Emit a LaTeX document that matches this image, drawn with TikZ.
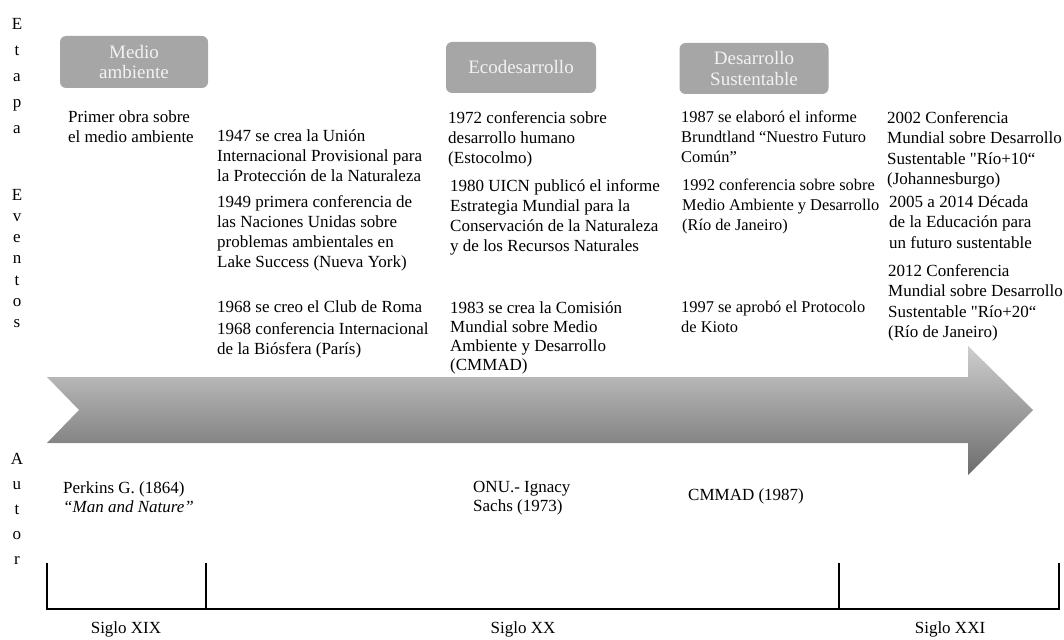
\documentclass[tikz,border=0pt]{standalone}
\usepackage{fontspec}
\setmainfont{Liberation Serif}
\definecolor{stagegray}{HTML}{A6A6A6}
\definecolor{stagetext}{HTML}{F2F2F2}
\definecolor{arrowtop}{HTML}{CECECE}
\definecolor{arrowbottom}{HTML}{6C6C6C}
\begin{document}
\begin{tikzpicture}[x=1pt,y=-1pt,
  txt/.style={anchor=north west, inner sep=0pt, align=left,
    font=\fontsize{17}{20}\selectfont},
  txtsm/.style={txt, font=\fontsize{16.4}{20}\selectfont},
  stage/.style={fill=stagegray, rounded corners=6pt, text=stagetext,
    align=center, inner sep=0pt, font=\fontsize{19}{20.5}\selectfont},
  vlab/.style={anchor=north, inner sep=0pt, align=center},
  era/.style={inner sep=0pt, font=\fontsize{17}{19.5}\selectfont},
  bracket/.style={line width=1.3pt, black}]
\useasboundingbox (0,0) rectangle (1064,639);

% vertical row headings
\node[vlab, font=\fontsize{17}{26}\selectfont] (etapa) at (17,18) {E\\t\\a\\p\\a};
\node[vlab, font=\fontsize{17}{21.2}\selectfont] (eventos) at (17,189) {E\\v\\e\\n\\t\\o\\s};
\node[vlab, font=\fontsize{17}{25}\selectfont] (autor) at (17,453) {A\\u\\t\\o\\r};

% stage boxes
\node[stage, minimum width=148pt, minimum height=52pt] (medio) at (134,62) {Medio\\ambiente};
\node[stage, minimum width=150pt, minimum height=51pt] (eco) at (521,67.5) {Ecodesarrollo};
\node[stage, minimum width=149pt, minimum height=51pt] (sust) at (754,68.5) {Desarrollo\\Sustentable};

% events, column 1
\node[txt] (e1) at (68,111) {Primer obra sobre\\el medio ambiente};

% events, column 2
\node[txt] (e1947) at (217,129) {1947 se crea la Unión\\Internacional Provisional para\\la Protección de la Naturaleza};
\node[txt] (e1949) at (217,195) {1949 primera conferencia de\\las Naciones Unidas sobre\\problemas ambientales en\\Lake Success (Nueva York)};
\node[txt] (e1968a) at (217,301) {1968 se creo el Club de Roma};
\node[txt] (e1968b) at (217,322) {1968 conferencia Internacional\\de la Biósfera (París)};

% events, column 3
\node[txt] (e1972) at (448,111) {1972 conferencia sobre\\desarrollo humano\\(Estocolmo)};
\node[txt] (e1980) at (450,179) {1980 UICN publicó el informe\\Estrategia Mundial para la\\Conservación de la Naturaleza\\y de los Recursos Naturales};
\node[txt, font=\fontsize{17}{19}\selectfont] (e1983) at (450,301) {1983 se crea la Comisión\\Mundial sobre Medio\\Ambiente y Desarrollo\\(CMMAD)};

% events, column 4
\node[txtsm] (e1987) at (681,111) {1987 se elaboró el informe\\Brundtland “Nuestro Futuro\\Común”};
\node[txtsm] (e1992) at (682,179) {1992 conferencia sobre sobre\\Medio Ambiente y Desarrollo\\(Río de Janeiro)};
\node[txtsm] (e1997) at (681,301) {1997 se aprobó el Protocolo\\de Kioto};

% events, column 5
\node[txt, font=\fontsize{17}{20.5}\selectfont] (e2002) at (887,111) {2002 Conferencia\\Mundial sobre Desarrollo\\Sustentable \textquotedbl Río+10“\\(Johannesburgo)};
\node[txt, font=\fontsize{17}{20.5}\selectfont] (e2005) at (889,195) {2005 a 2014 Década\\de la Educación para\\un futuro sustentable};
\node[txt, font=\fontsize{17}{20.5}\selectfont] (e2012) at (888,264) {2012 Conferencia\\Mundial sobre Desarrollo\\Sustentable \textquotedbl Río+20“\\(Río de Janeiro)};

% time arrow
\shade[top color=arrowtop, bottom color=arrowbottom]
  (47,377) -- (968,377) -- (968,346) -- (1033,410) -- (968,475)
  -- (968,443) -- (47,443) -- (79,410) -- cycle;

% authors
\node[txt, font=\fontsize{17}{19.5}\selectfont] (perkins) at (63,481) {Perkins G. (1864)\\\textit{“Man and Nature”}};
\node[txt, font=\fontsize{17}{19.5}\selectfont] (sachs) at (473,481) {ONU.- Ignacy\\Sachs (1973)};
\node[txt] (cmmad) at (688,488) {CMMAD (1987)};

% century bracket
\coordinate (b0) at (47,609);
\coordinate (b1) at (206,609);
\coordinate (b2) at (839,609);
\coordinate (b3) at (1059,609);
\draw[bracket] (47,563) -- (b0) -- (b3) -- (1059,563);
\draw[bracket] (b1) -- (206,563);
\draw[bracket] (b2) -- (839,563);

\node[era] (xix) at (126,629) {Siglo XIX};
\node[era] (xx) at (523,629) {Siglo XX};
\node[era] (xxi) at (950,629) {Siglo XXI};
\end{tikzpicture}
\end{document}
